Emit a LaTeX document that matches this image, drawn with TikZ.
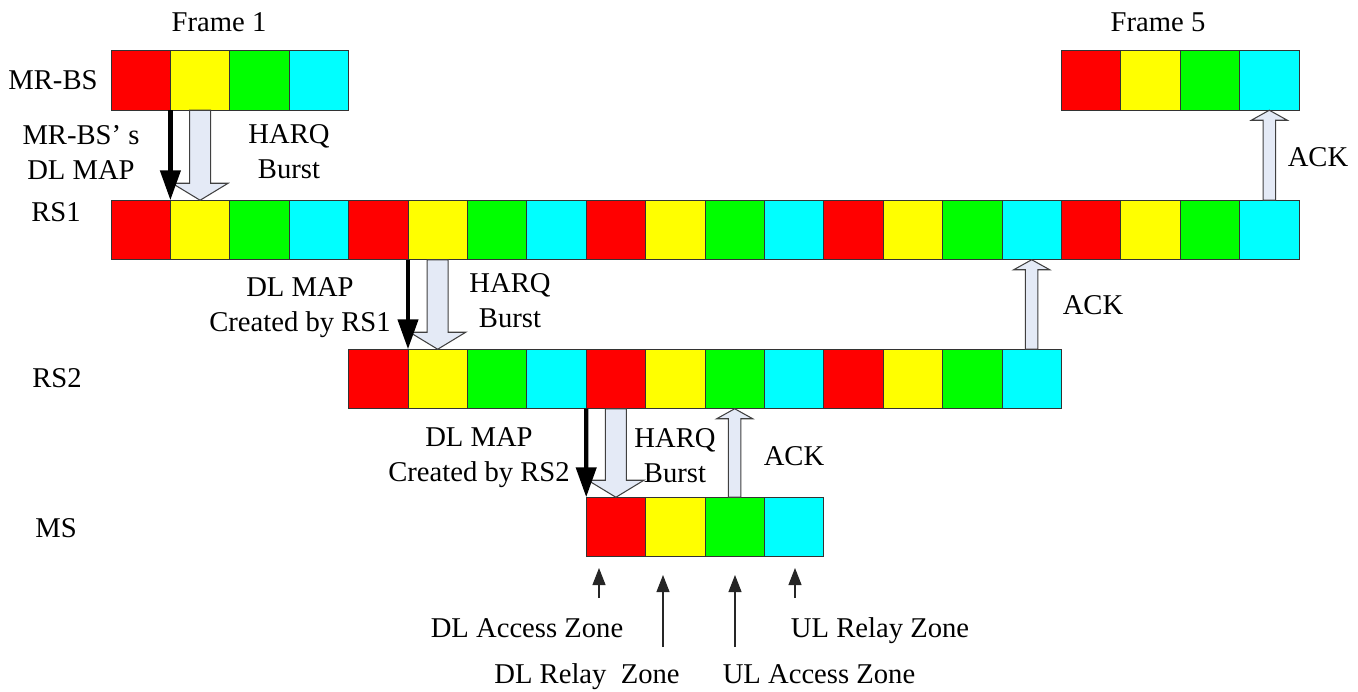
\documentclass[tikz,border=0pt]{standalone}
\usepackage{fontspec}
\setmainfont{Liberation Serif}
\usepackage{tikz}
\usetikzlibrary{arrows.meta, calc}
\definecolor{harqfill}{RGB}{228,234,246}
\definecolor{zred}{RGB}{255,0,0}
\definecolor{zyellow}{RGB}{255,255,0}
\definecolor{zgreen}{RGB}{0,255,0}
\definecolor{zcyan}{RGB}{0,255,255}

\tikzset{
  slot/.style={draw=black!80, line width=0.5pt, inner sep=0pt, outer sep=0pt,
    minimum width=1.188cm, minimum height=1.19cm},
  lbl/.style={font=\fontsize{16.3}{20}\selectfont, inner sep=0pt},
  dlmap/.style={line width=2.5pt, -{Triangle[width=0.4cm, length=0.6cm]}},
  harq/.style={draw=black!75, fill=harqfill, line width=0.6pt},
  zonearrow/.style={draw=black!85, line width=0.6pt, -{Triangle[width=0.26cm, length=0.34cm]}}
}

% block arrow: start, end, shaft half width, head half width, head length
\newcommand{\blockarrow}[5]{%
  \coordinate (ba-h) at ($(#2)!#5!(#1)$);
  \draw[harq] ($(#1)!#3!90:(#2)$) -- ($(ba-h)!#3!90:(#2)$) -- ($(ba-h)!#4!90:(#2)$) -- (#2)
    -- ($(ba-h)!#4!-90:(#2)$) -- ($(ba-h)!#3!-90:(#2)$) -- ($(#1)!#3!-90:(#2)$) -- cycle;
}

\begin{document}
\begin{tikzpicture}[x=0.02cm, y=-0.02cm]
  % Define parameters
  \def\cellw{59.4}   % width of one zone
  \def\xzero{111}    % left edge of the frames
  \useasboundingbox (0,0) rectangle (1358,692);

  % MR-BS: frame 1 and frame 5
  \foreach \c [count=\k] in {zred,zyellow,zgreen,zcyan} {
      \node[slot, fill=\c] (bs1-\k) at ({\xzero+(\k-0.5)*\cellw}, 80.5) {};
      \node[slot, fill=\c] (bs5-\k) at ({\xzero+(16+\k-0.5)*\cellw}, 80.5) {};
  }

  % RS1: five frames
  \foreach \f in {0,...,4} {
      \foreach \c [count=\k] in {zred,zyellow,zgreen,zcyan} {
          \pgfmathtruncatemacro\n{4*\f+\k}
          \node[slot, fill=\c] (rs1-\n) at ({\xzero+(\n-0.5)*\cellw}, 230) {};
      }
  }

  % RS2: three frames
  \foreach \f in {0,...,2} {
      \foreach \c [count=\k] in {zred,zyellow,zgreen,zcyan} {
          \pgfmathtruncatemacro\n{4*\f+\k}
          \node[slot, fill=\c] (rs2-\n) at ({\xzero+(4+\n-0.5)*\cellw}, 379) {};
      }
  }

  % MS: one frame
  \foreach \c [count=\k] in {zred,zyellow,zgreen,zcyan} {
      \node[slot, fill=\c] (ms-\k) at ({\xzero+(8+\k-0.5)*\cellw}, 527) {};
  }

  % Station and frame labels
  \node[lbl, anchor=base] (frame1) at (219, 32) {Frame 1};
  \node[lbl, anchor=base] (frame5) at (1158, 32) {Frame 5};
  \node[lbl, anchor=base] (lbl-bs) at (53, 90) {MR-BS};
  \node[lbl, anchor=base] (lbl-rs1) at (56, 222) {RS1};
  \node[lbl, anchor=base] (lbl-rs2) at (57, 387) {RS2};
  \node[lbl, anchor=base] (lbl-ms) at (56, 537) {MS};

  % HARQ bursts (down) and ACKs (up)
  \blockarrow{bs1-2.south}{rs1-2.north}{0.21cm}{0.56cm}{0.34cm}
  \blockarrow{rs1-6.south}{rs2-2.north}{0.21cm}{0.56cm}{0.34cm}
  \blockarrow{rs2-5.south}{ms-1.north}{0.21cm}{0.56cm}{0.34cm}
  \blockarrow{ms-3.north}{rs2-7.south}{0.125cm}{0.36cm}{0.2cm}
  \blockarrow{rs2-12.north}{rs1-16.south}{0.125cm}{0.36cm}{0.2cm}
  \blockarrow{rs1-20.north}{bs5-4.south}{0.125cm}{0.36cm}{0.2cm}

  % DL MAPs
  \draw[dlmap] (bs1-1.south east) -- (rs1-1.north east);
  \draw[dlmap] (rs1-5.south east) -- (rs2-1.north east);
  \draw[dlmap] (rs2-4.south east) -- (ms-1.north west);

  \node[lbl, align=center] (map-bs) at (81, 152.8) {MR-BS' s\\DL MAP};
  \node[lbl, align=center] (harq-bs) at (289, 152) {HARQ\\Burst};
  \node[lbl, align=center] (map-rs1) at (300, 307.9) {DL MAP\\Created by RS1};
  \node[lbl, align=center] (harq-rs1) at (510, 301) {HARQ\\Burst};
  \node[lbl, align=center] (map-rs2) at (479, 457.9) {DL MAP\\Created by RS2};
  \node[lbl, align=center] (harq-rs2) at (675, 456) {HARQ\\Burst};
  \node[lbl, anchor=base] (ack-ms) at (794, 465) {ACK};
  \node[lbl, anchor=base] (ack-rs2) at (1093, 315) {ACK};
  \node[lbl, anchor=base] (ack-rs1) at (1318, 167) {ACK};

  % Zones of the MS frame
  \coordinate (dla-tail) at (599, 598);  \coordinate (dla-tip) at (599, 568);
  \coordinate (dlr-tail) at (663, 647);  \coordinate (dlr-tip) at (663, 575);
  \coordinate (ula-tail) at (735, 647);  \coordinate (ula-tip) at (735, 575);
  \coordinate (ulr-tail) at (795, 598);  \coordinate (ulr-tip) at (795, 568);
  \draw[zonearrow] (dla-tail) -- (dla-tip);
  \draw[zonearrow] (dlr-tail) -- (dlr-tip);
  \draw[zonearrow] (ula-tail) -- (ula-tip);
  \draw[zonearrow] (ulr-tail) -- (ulr-tip);
  \node[lbl, anchor=base] (dl-access) at (527, 637) {DL Access Zone};
  \node[lbl, anchor=base] (ul-relay) at (880, 637) {UL Relay Zone};
  \node[lbl, anchor=base] (dl-relay) at (587, 683) {DL Relay\ \ Zone};
  \node[lbl, anchor=base] (ul-access) at (819, 683) {UL Access Zone};
\end{tikzpicture}
\end{document}
